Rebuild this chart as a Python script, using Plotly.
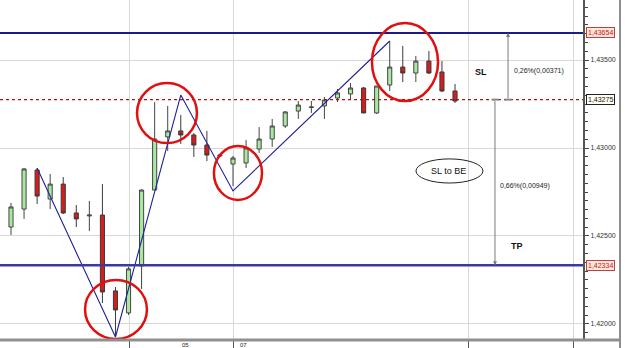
import plotly.graph_objects as go

# ---- data ----
idx = list(range(35))
opens = [1.42551, 1.42653, 1.42875, 1.42710, 1.42795, 1.42631, 1.42614, 1.42619, 1.42188, 1.42063,
         1.42330, 1.42761, 1.43063, 1.43097, 1.43074, 1.43017, 1.42955, 1.42909, 1.42915, 1.42994,
         1.43051, 1.43125, 1.43210, 1.43230, 1.43239, 1.43284, 1.43307, 1.43341, 1.43199, 1.43358,
         1.43460, 1.43426, 1.43494, 1.43432, 1.43324]
highs = [1.42688, 1.42886, 1.42886, 1.42852, 1.42835, 1.42676, 1.42699, 1.42795, 1.42210, 1.42324,
         1.42766, 1.43261, 1.43239, 1.43188, 1.43085, 1.43097, 1.42966, 1.42955, 1.43045, 1.43119,
         1.43165, 1.43210, 1.43267, 1.43267, 1.43290, 1.43335, 1.43369, 1.43347, 1.43352, 1.43608,
         1.43580, 1.43523, 1.43551, 1.43494, 1.43364]
lows = [1.42506, 1.42597, 1.42682, 1.42653, 1.42625, 1.42551, 1.42528, 1.42119, 1.41926, 1.42051,
        1.42199, 1.42761, 1.42983, 1.43023, 1.42949, 1.42926, 1.42949, 1.42784, 1.42886, 1.42972,
        1.43006, 1.43114, 1.43165, 1.43199, 1.43165, 1.43261, 1.43273, 1.43199, 1.43193, 1.43324,
        1.43375, 1.43375, 1.43420, 1.43318, 1.43256]
closes = [1.42665, 1.42881, 1.42727, 1.42795, 1.42631, 1.42597, 1.42619, 1.42182, 1.42080, 1.42313,
          1.42761, 1.43051, 1.43097, 1.43074, 1.43017, 1.42960, 1.42960, 1.42943, 1.43000, 1.43051,
          1.43125, 1.43205, 1.43244, 1.43233, 1.43273, 1.43313, 1.43341, 1.43199, 1.43352, 1.43460,
          1.43426, 1.43494, 1.43426, 1.43324, 1.43267]

zig_x = [2, 8, 13, 17, 29]
zig_y = [1.42886, 1.41926, 1.43301, 1.42756, 1.43608]

SL_LEVEL = 1.43654
ENTRY_LEVEL = 1.43275
TP_LEVEL = 1.42334
level_labels = ["1,43654", "1,43275", "1,42334"]

grid_x = [9.11, 17.0, 35.07, 43.11]
day_labels = ["05", "07"]
day_label_x = [13.0, 17.45]

FONT = "Liberation Sans, Arial, sans-serif"

fig = go.Figure()

fig.add_trace(go.Candlestick(
    x=idx, open=opens, high=highs, low=lows, close=closes,
    increasing=dict(fillcolor="#a8e8a0", line=dict(color="#454545", width=1)),
    decreasing=dict(fillcolor="#d81c1c", line=dict(color="#3a3a3a", width=1)),
    showlegend=False, hoverinfo="skip",
))

fig.add_trace(go.Scatter(
    x=zig_x, y=zig_y, mode="lines",
    line=dict(color="#1f1f9a", width=1.1), showlegend=False, hoverinfo="skip",
))

shapes = []
# level lines
shapes.append(dict(type="line", xref="paper", yref="y", x0=0, x1=1, y0=SL_LEVEL, y1=SL_LEVEL,
                   line=dict(color="#1c1c88", width=2)))
shapes.append(dict(type="line", xref="paper", yref="y", x0=0, x1=1, y0=TP_LEVEL, y1=TP_LEVEL,
                   line=dict(color="#3a3aa0", width=2.5)))
shapes.append(dict(type="line", xref="paper", yref="y", x0=0, x1=1, y0=ENTRY_LEVEL, y1=ENTRY_LEVEL,
                   line=dict(color="#a01818", width=1.3, dash="dot")))
# red hand-drawn circles
red_circles = [(5.67, 10.41, 1.41915, 1.42250),
               (9.65, 14.24, 1.43028, 1.43369),
               (15.54, 19.22, 1.42705, 1.43011),
               (27.64, 32.70, 1.43267, 1.43710)]
for x0, x1, y0, y1 in red_circles:
    shapes.append(dict(type="circle", xref="x", yref="y", x0=x0, x1=x1, y0=y0, y1=y1,
                       line=dict(color="#e01010", width=2.5)))
# SL to BE ellipse
shapes.append(dict(type="circle", xref="x", yref="y", x0=31.01, x1=36.14, y0=1.42801, y1=1.42938,
                   line=dict(color="#222222", width=1)))
# small ticks at arrow bases
shapes.append(dict(type="line", xref="x", yref="y", x0=37.8, x1=38.35, y0=ENTRY_LEVEL, y1=ENTRY_LEVEL,
                   line=dict(color="#888888", width=2)))
shapes.append(dict(type="line", xref="x", yref="y", x0=36.8, x1=37.35, y0=ENTRY_LEVEL, y1=ENTRY_LEVEL,
                   line=dict(color="#888888", width=2)))
# frame lines on the right / bottom extension
shapes.append(dict(type="line", xref="paper", yref="paper", x0=1.0635, x1=1.0635, y0=-0.03, y1=1,
                   line=dict(color="#6a6a6a", width=1.5)))
shapes.append(dict(type="line", xref="paper", yref="paper", x0=0, x1=1.0635, y0=0, y1=0,
                   line=dict(color="#909090", width=3)))

annotations = []
# arrows
annotations.append(dict(x=38.06, y=SL_LEVEL, ax=38.06, ay=ENTRY_LEVEL, xref="x", yref="y",
                        axref="x", ayref="y", text="", showarrow=True, arrowhead=2,
                        arrowsize=0.8, arrowwidth=1, arrowcolor="#7a7a7a"))
annotations.append(dict(x=37.06, y=TP_LEVEL, ax=37.06, ay=ENTRY_LEVEL, xref="x", yref="y",
                        axref="x", ayref="y", text="", showarrow=True, arrowhead=2,
                        arrowsize=0.8, arrowwidth=1, arrowcolor="#7a7a7a"))
# texts
annotations.append(dict(x=36.0, y=1.43432, xref="x", yref="y", text="<b>SL</b>", showarrow=False,
                        font=dict(family=FONT, size=9, color="#111111")))
annotations.append(dict(x=38.35, y=1.43438, xref="x", yref="y", text="0,26%(0,00371)", showarrow=False,
                        xanchor="left", font=dict(family=FONT, size=7, color="#222222")))
annotations.append(dict(x=33.5, y=1.42869, xref="x", yref="y", text="SL to BE", showarrow=False,
                        font=dict(family=FONT, size=9, color="#111111")))
annotations.append(dict(x=37.3, y=1.42784, xref="x", yref="y", text="0,66%(0,00949)", showarrow=False,
                        xanchor="left", font=dict(family=FONT, size=7, color="#222222")))
annotations.append(dict(x=38.74, y=1.42443, xref="x", yref="y", text="<b>TP</b>", showarrow=False,
                        font=dict(family=FONT, size=9, color="#111111")))
# price tags
tag_styles = [("#c04040", "#fde6dc", "#c02020"),
              ("#222222", "#fffff4", "#111111"),
              ("#c04040", "#fde6dc", "#c02020")]
for lvl, lab, (bc, bg, fc) in zip([SL_LEVEL, ENTRY_LEVEL, TP_LEVEL], level_labels, tag_styles):
    annotations.append(dict(x=1, y=lvl, xref="paper", yref="y", text=lab, showarrow=False,
                            xanchor="left", xshift=3, bordercolor=bc, borderwidth=1, borderpad=1,
                            bgcolor=bg, font=dict(family=FONT, size=7, color=fc)))
# day labels
for lx, lt in zip(day_label_x, day_labels):
    annotations.append(dict(x=lx, y=0, xref="x", yref="paper", yanchor="middle", xanchor="left",
                            text=lt, showarrow=False, yshift=-4.5, borderpad=0,
                            font=dict(family=FONT, size=6, color="#222222")))

fig.update_layout(
    width=625, height=348,
    margin=dict(l=0, r=42, t=0, b=8),
    paper_bgcolor="white", plot_bgcolor="white",
    separators=", ",
    boxgap=0.55,
    shapes=shapes, annotations=annotations,
    showlegend=False,
    xaxis=dict(range=[-0.842, 43.8], rangeslider=dict(visible=False), showgrid=True,
               tickmode="array", tickvals=grid_x, ticktext=["", "", "", ""],
               gridcolor="#d8d8d8", gridwidth=1, zeroline=False, showline=False,
               ticks="outside", ticklen=8, tickcolor="#555555", tickwidth=1),
    yaxis=dict(side="right", range=[1.41909, 1.43841], tick0=1.42, dtick=0.005,
               tickformat=".5f", showgrid=True, gridcolor="#d8d8d8", gridwidth=1,
               zeroline=False, showline=True, linecolor="#555555", linewidth=2,
               ticks="outside", ticklen=4, tickcolor="#444444",
               tickfont=dict(family=FONT, size=7, color="#333333"),
               minor=dict(dtick=0.0005, ticks="outside", ticklen=3, tickcolor="#444444", showgrid=False)),
)

fig.write_html("out.html")
